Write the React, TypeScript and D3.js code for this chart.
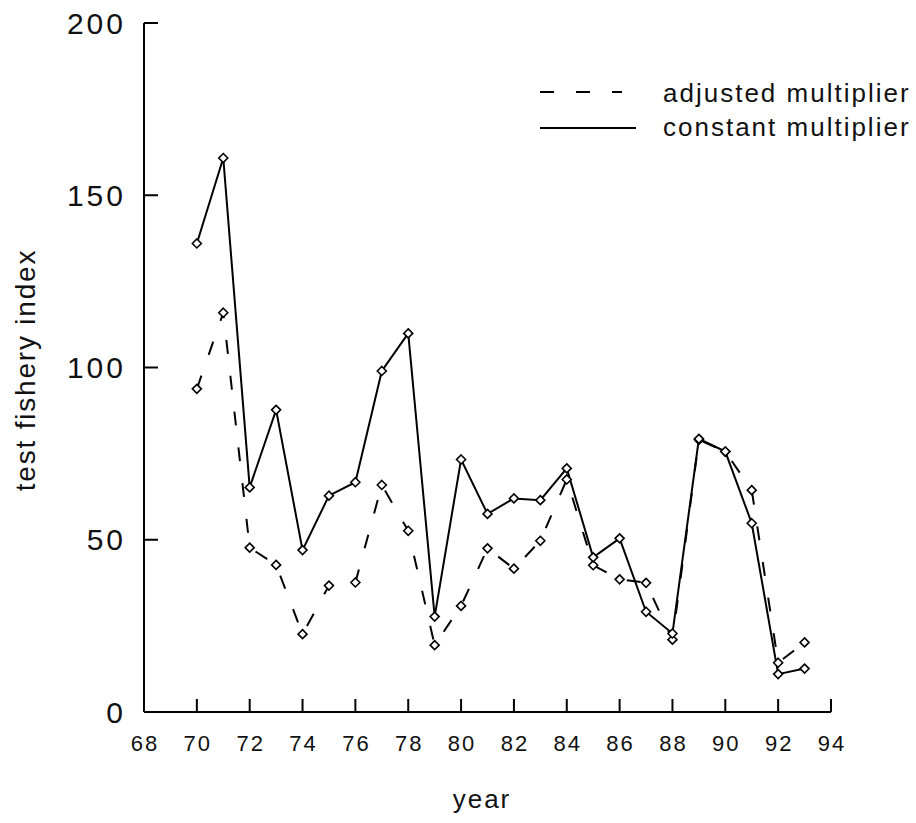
import React from "react";
import * as d3 from "d3";

const years = [70, 71, 72, 73, 74, 75, 76, 77, 78, 79, 80, 81, 82, 83, 84, 85, 86, 87, 88, 89, 90, 91, 92, 93];
const constantMultiplier = [136.0, 160.8, 65.2, 87.7, 47.0, 62.8, 66.7, 99.0, 109.9, 27.7, 73.3, 57.5, 62.0, 61.5, 70.7, 44.9, 50.4, 29.1, 22.8, 79.3, 75.6, 54.8, 11.0, 12.6];
const adjustedMultiplier = [93.8, 115.9, 47.7, 42.7, 22.6, 36.7, 37.6, 65.9, 52.6, 19.4, 30.8, 47.5, 41.6, 49.7, 67.5, 42.6, 38.5, 37.5, 21.0, 79.0, 75.6, 64.4, 14.3, 20.2];
const xTicks = [68, 70, 72, 74, 76, 78, 80, 82, 84, 86, 88, 90, 92, 94];
const yTicks = [0, 50, 100, 150, 200];
const legendLabels = ["adjusted multiplier", "constant multiplier"];

const W = 916;
const H = 823;
const FONT = "'Liberation Sans', Arial, Helvetica, sans-serif";

export default function App() {
  const x = d3.scaleLinear().domain([68, 94]).range([144, 831]);
  const y = d3.scaleLinear().domain([0, 200]).range([712, 23]);

  const line = d3
    .line<number>()
    .x((_, i) => x(years[i]))
    .y((d) => y(d));

  const diamond = (cx: number, cy: number, r = 4.5) =>
    `M${cx},${cy - r}L${cx + r},${cy}L${cx},${cy + r}L${cx - r},${cy}Z`;

  const series = [
    { values: adjustedMultiplier, dash: "14,22" },
    { values: constantMultiplier, dash: undefined as string | undefined },
  ];

  return (
    <svg
      width={W}
      height={H}
      viewBox={`0 0 ${W} ${H}`}
      style={{ position: "absolute", left: 0, top: 0, background: "#fff" }}
    >
      <rect x={0} y={0} width={W} height={H} fill="#fff" />
      {/* axes */}
      <g stroke="#000" strokeWidth={2} fill="none">
        <line x1={x(68)} x2={x(68)} y1={y(0)} y2={y(200)} />
        <line x1={x(68)} x2={x(94)} y1={y(0)} y2={y(0)} />
        {yTicks.map((t) => (
          <line key={"yt" + t} x1={x(68)} x2={x(68) + 14} y1={y(t)} y2={y(t)} />
        ))}
        {xTicks.map((t) => (
          <line key={"xt" + t} x1={x(t)} x2={x(t)} y1={y(0)} y2={y(0) - 13} />
        ))}
      </g>
      {/* y tick labels */}
      <g fontFamily={FONT} fontSize={30} fill="#111">
        {yTicks.map((t) => (
          <text
            key={"yl" + t}
            x={123 + 3}
            y={y(t)}
            textAnchor="end"
            dominantBaseline="central"
            letterSpacing={3}
          >
            {t}
          </text>
        ))}
      </g>
      {/* x tick labels */}
      <g fontFamily={FONT} fontSize={22} fill="#111">
        {xTicks.map((t) => (
          <text key={"xl" + t} x={x(t) + 1} y={751} textAnchor="middle" letterSpacing={2}>
            {t}
          </text>
        ))}
      </g>
      {/* axis titles */}
      <text
        x={482}
        y={808}
        textAnchor="middle"
        fontFamily={FONT}
        fontSize={26}
        letterSpacing={2}
        fill="#111"
      >
        year
      </text>
      <text
        transform={`translate(35,370) rotate(-90)`}
        textAnchor="middle"
        fontFamily={FONT}
        fontSize={28}
        letterSpacing={1.8}
        fill="#111"
      >
        test fishery index
      </text>
      {/* series lines */}
      {series.map((s, si) => (
        <path
          key={"s" + si}
          d={line(s.values) || ""}
          fill="none"
          stroke="#000"
          strokeWidth={2}
          strokeDasharray={s.dash}
        />
      ))}
      {/* markers */}
      {series.map((s, si) => (
        <g key={"m" + si}>
          {s.values.map((v, i) => (
            <path
              key={i}
              d={diamond(x(years[i]), y(v))}
              fill="#fff"
              stroke="#000"
              strokeWidth={1.6}
            />
          ))}
        </g>
      ))}
      {/* legend */}
      <g>
        <line x1={540} x2={622} y1={92} y2={92} stroke="#000" strokeWidth={2} strokeDasharray="14,22" />
        <line x1={540} x2={636} y1={128} y2={128} stroke="#000" strokeWidth={2} />
        <text x={663} y={102} fontFamily={FONT} fontSize={26} letterSpacing={2} fill="#111">
          {legendLabels[0]}
        </text>
        <text x={663} y={136} fontFamily={FONT} fontSize={26} letterSpacing={2} fill="#111">
          {legendLabels[1]}
        </text>
      </g>
    </svg>
  );
}
